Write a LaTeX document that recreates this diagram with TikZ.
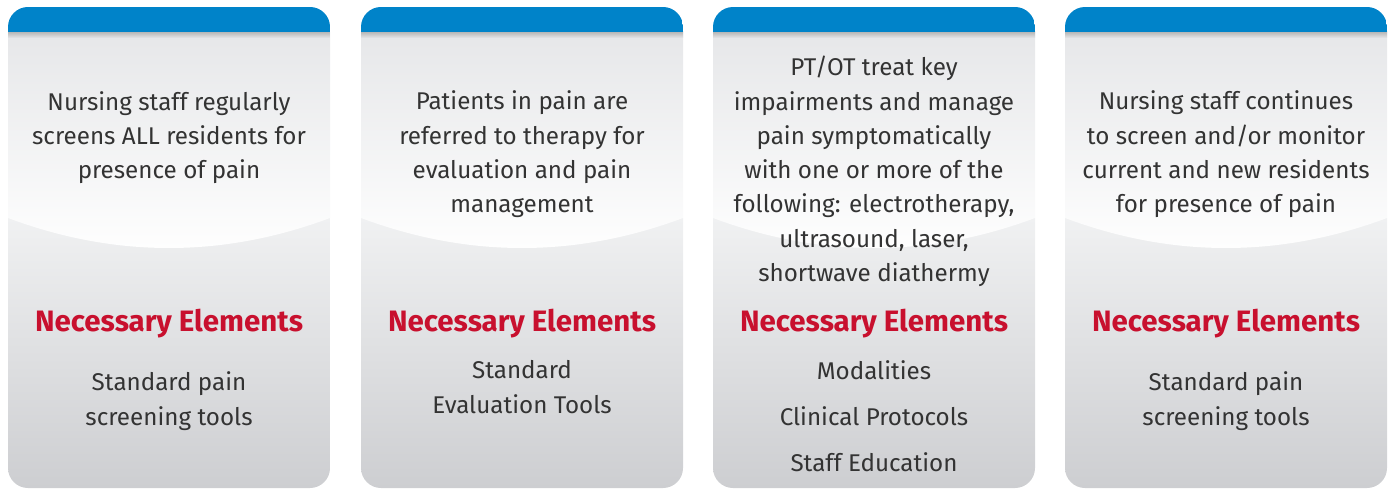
\documentclass[tikz,border=0pt]{standalone}
\usepackage{fontspec}
\setmainfont{Fira Sans}
\usepackage{tikz}
\usepackage{xcolor}

\definecolor{bandblue}{HTML}{0083C9}
\definecolor{elemred}{HTML}{C8102E}
\definecolor{bodytext}{HTML}{333333}
\definecolor{cardtop}{HTML}{E6E7E9}
\definecolor{cardmid}{HTML}{F0F1F2}
\definecolor{cardbot}{HTML}{CDCED1}

\begin{document}
\begin{tikzpicture}[x=1pt,y=-1pt]
        % Styles
        \tikzset{
          desc/.style={
            align=center,
            text=bodytext,
            font=\fontsize{24.2}{34.3}\selectfont,
            inner sep=0pt
          },
          elemhead/.style={
            text=elemred,
            font=\fontsize{29.5}{30}\selectfont\bfseries,
            inner sep=0pt
          },
          elem/.style={
            align=center,
            text=bodytext,
            font=\fontsize{24.2}{34.3}\selectfont,
            inner sep=0pt
          }
        }

        \useasboundingbox (0,0) rectangle (1394,489);

        % card backgrounds
        \foreach \x in {8,361,713,1065}{
          \begin{scope}
            \clip[rounded corners=20pt] (\x,7) rectangle ++(322,481);
            \shade[top color=cardmid, bottom color=cardbot]
              (\x,218) rectangle ++(322,270);
            \shade[top color=cardtop, bottom color=white]
              (\x,32) -- ({\x+322},32) -- ({\x+322},218)
              .. controls ({\x+215},258) and ({\x+107},258) .. (\x,218) -- cycle;
            % shadow under the band
            \shade[top color=black!28, bottom color=cardtop]
              (\x,32) rectangle ++(322,6);
            \fill[bandblue] (\x,7) rectangle ++(322,25);
          \end{scope}
        }

        % upper texts
        \node[desc] (desc1) at (169,137.5) {Nursing staff regularly\\ screens ALL residents for\\ presence of pain};
        \node[desc] (desc2) at (522,154.5) {Patients in pain are\\ referred to therapy for\\ evaluation and pain\\ management};
        \node[desc] (desc3) at (874,171.5) {PT/OT treat key\\ impairments and manage\\ pain symptomatically\\ with one or more of the\\ following: electrotherapy,\\ ultrasound, laser,\\ shortwave diathermy};
        \node[desc] (desc4) at (1226,154.5) {Nursing staff continues\\ to screen and/or monitor\\ current and new residents\\ for presence of pain};

        % headings
        \node[elemhead] (head1) at (169,323.5) {Necessary Elements};
        \node[elemhead] (head2) at (522,323.5) {Necessary Elements};
        \node[elemhead] (head3) at (874,323.5) {Necessary Elements};
        \node[elemhead] (head4) at (1226,323.5) {Necessary Elements};

        % element lists
        \node[elem] (elem1) at (169,401) {Standard pain\\ screening tools};
        \node[elem] (elem2) at (522,387) {Standard\\ Evaluation Tools};
        \node[elem, font=\fontsize{24.2}{46}\selectfont] (elem3) at (874,416) {Modalities\\ Clinical Protocols\\ Staff Education};
        \node[elem] (elem4) at (1226,401) {Standard pain\\ screening tools};
\end{tikzpicture}
\end{document}
